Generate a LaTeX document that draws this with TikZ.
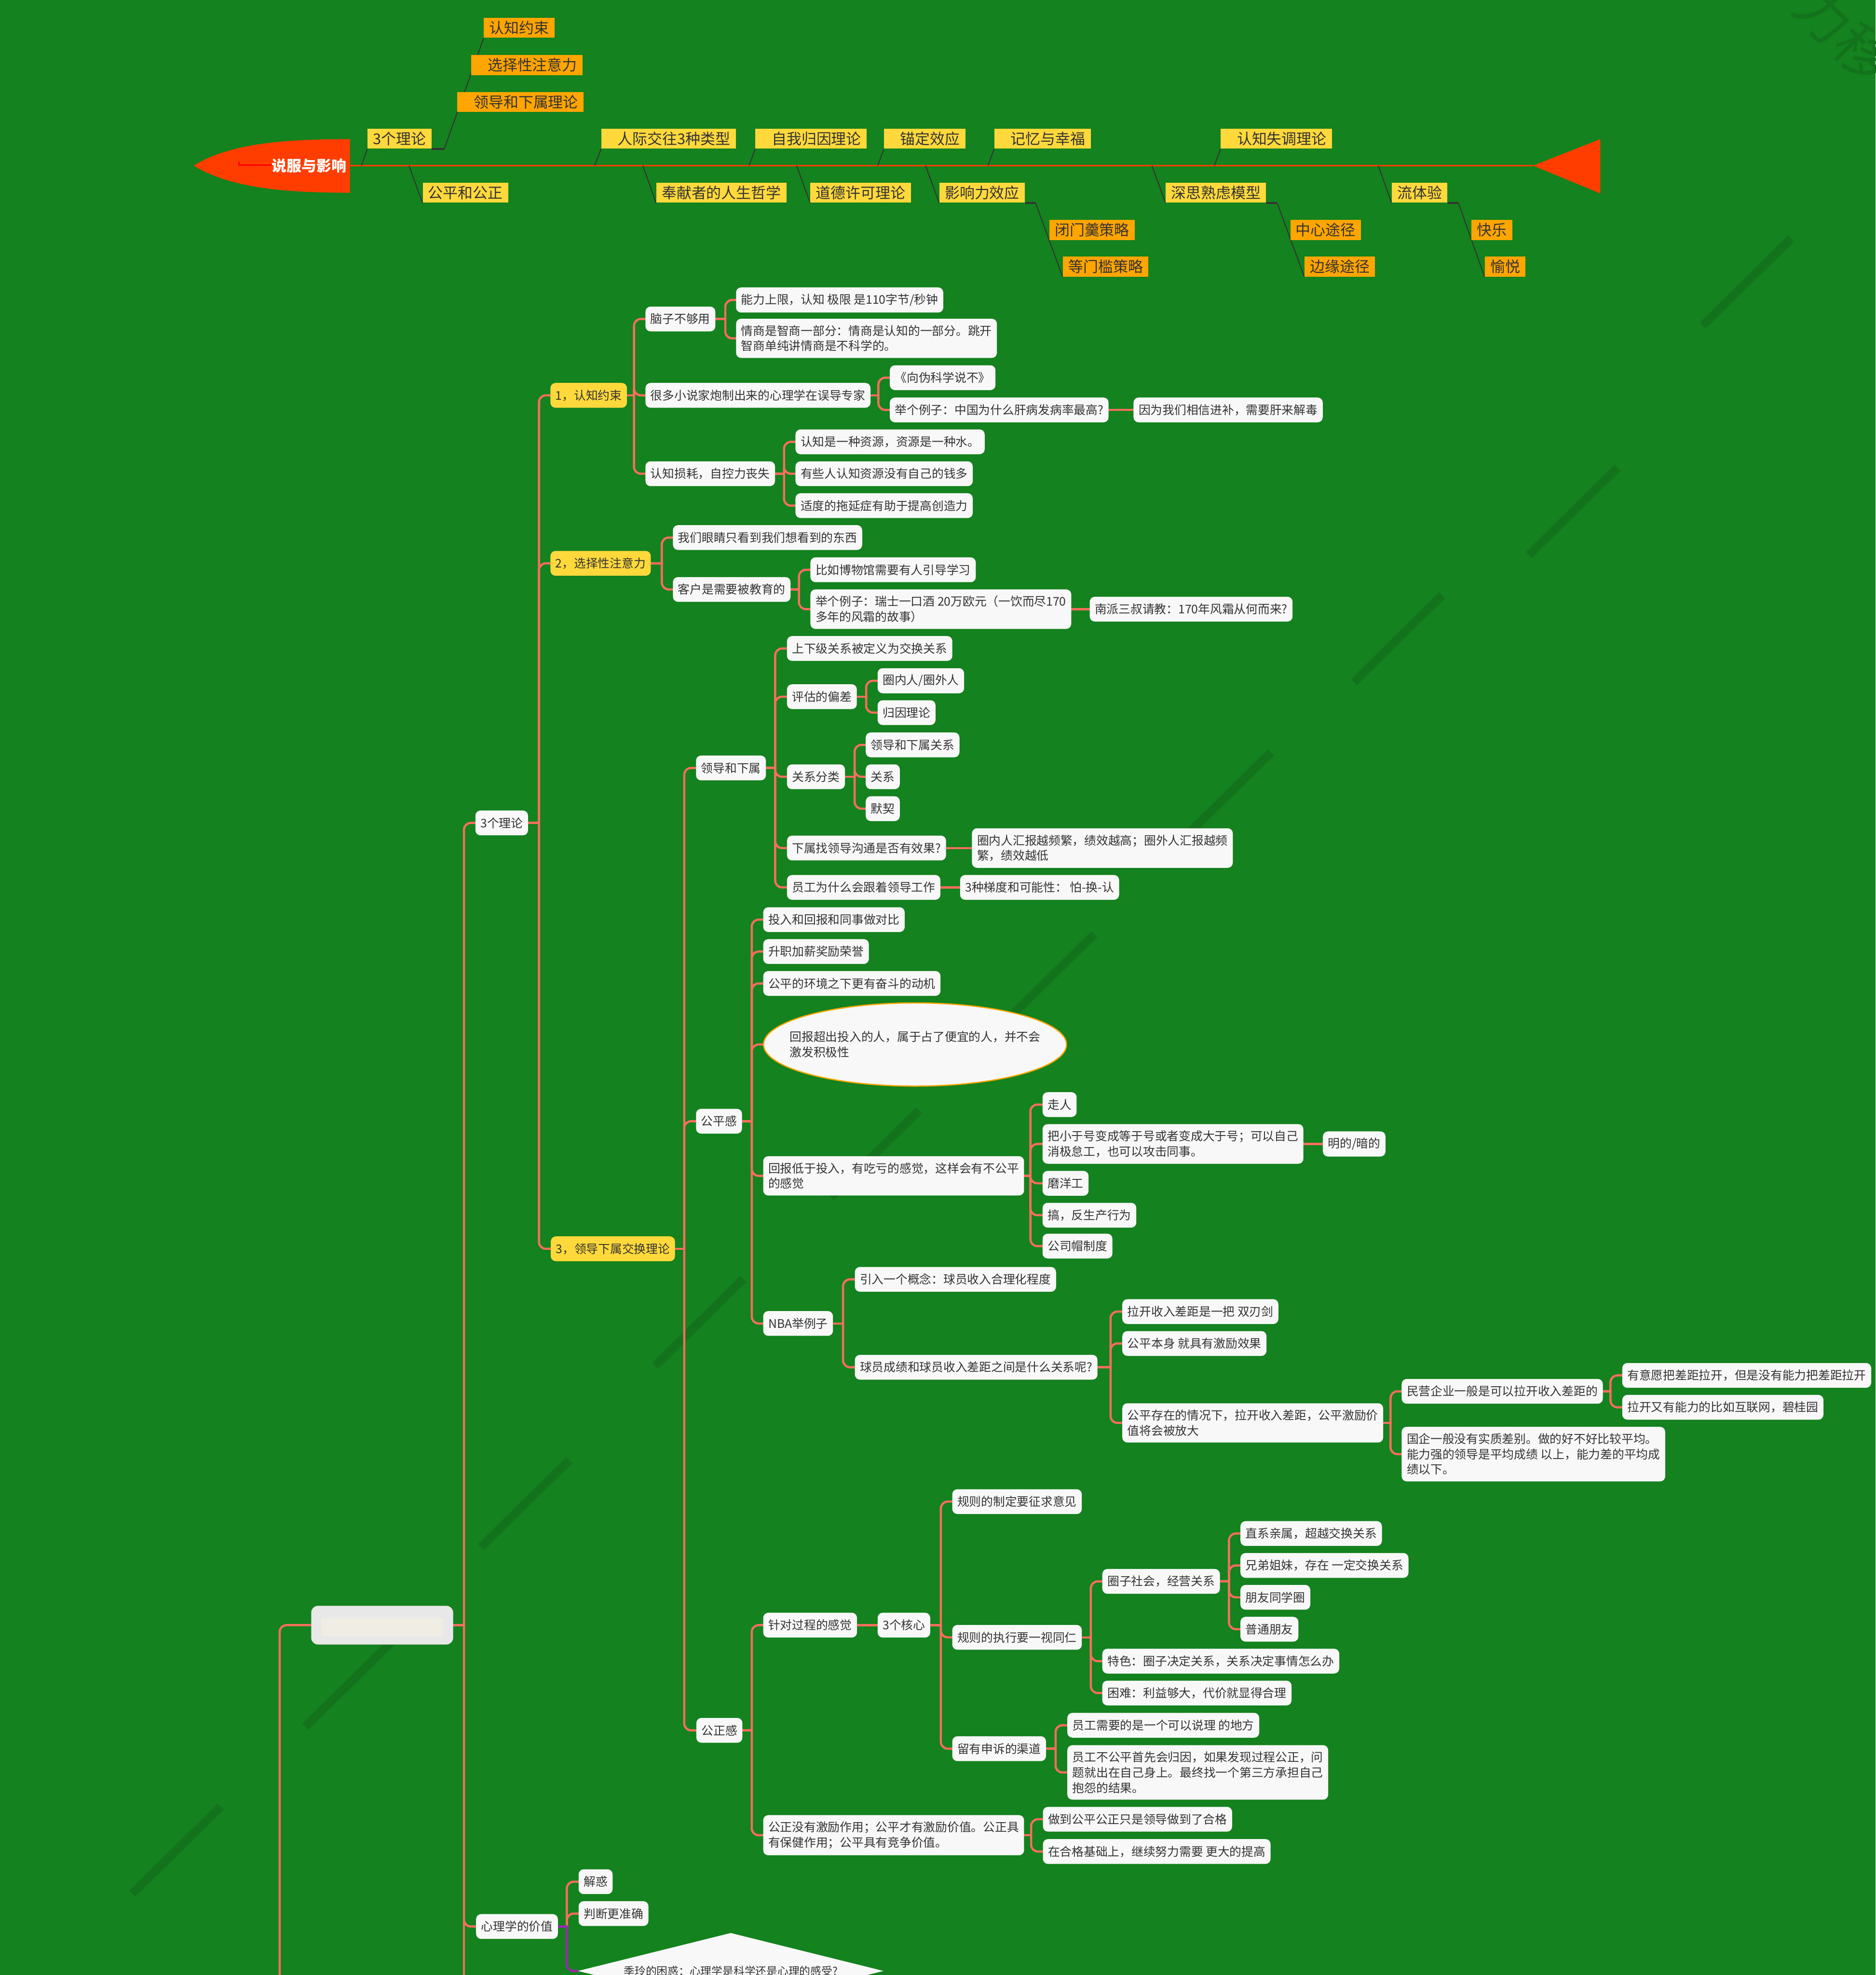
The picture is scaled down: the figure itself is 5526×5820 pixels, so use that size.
\documentclass[tikz,border=0pt]{standalone}
\usepackage{fontspec}
\setmainfont{Noto Sans CJK SC}
\usepackage{tikz}
\usetikzlibrary{positioning,shapes.geometric}
\definecolor{boardgreen}{RGB}{20,130,30}
\definecolor{markgreen}{RGB}{19,115,28}
\definecolor{linkred}{RGB}{250,110,92}
\definecolor{cardwhite}{RGB}{248,248,248}
\definecolor{inkgray}{RGB}{51,51,51}
\definecolor{tagyellow}{RGB}{255,217,59}
\definecolor{tagorange}{RGB}{255,165,0}
\definecolor{spinered}{RGB}{255,61,0}
\definecolor{valuepurple}{RGB}{156,39,176}
\definecolor{centergray}{RGB}{232,232,232}
\definecolor{centercream}{RGB}{240,237,228}
\pgfdeclarelayer{board}
\pgfdeclarelayer{links}
\pgfsetlayers{board,links,main}

\begin{document}
\begin{tikzpicture}[x=0.01cm,y=-0.01cm,
  card/.style={rectangle,rounded corners=0.15cm,fill=cardwhite,text=inkgray,font=\fontsize{10}{12.8}\selectfont,align=left,inner xsep=0.15cm,inner ysep=0.19cm,minimum height=0.73cm,anchor=west},
  tag/.style={card,fill=tagyellow},
  oval/.style={ellipse,draw=tagorange,line width=1pt,fill=cardwhite,text=inkgray,font=\fontsize{10}{12.8}\selectfont,align=left,minimum width=8.92cm,minimum height=2.45cm,inner xsep=-0.6cm,inner ysep=0pt},
  question/.style={diamond,aspect=4,fill=cardwhite,text=inkgray,font=\fontsize{9.2}{11}\selectfont,minimum width=9cm,minimum height=2.24cm,inner sep=0pt},
  centerbox/.style={rectangle,rounded corners=0.2cm,fill=centergray,minimum width=4.18cm,minimum height=1.14cm},
  fishtag/.style={rectangle,fill=tagyellow,text=inkgray,font=\fontsize{12.5}{14}\selectfont,inner xsep=0.16cm,inner ysep=0pt,minimum height=0.59cm,anchor=south west},
  fishsub/.style={fishtag,fill=tagorange},
  link/.style={draw=linkred,line width=1.8pt,rounded corners=0.2cm,line cap=round},
  purplelink/.style={link,draw=valuepurple},
  bone/.style={draw=inkgray,line width=0.8pt},
  bonestub/.style={draw=inkgray,line width=1.6pt},
  spine/.style={draw=spinered,line width=1.2pt},
  wmstroke/.style={draw=markgreen,line width=0.25cm}
]
\useasboundingbox (0,0) rectangle (5526,5820);
\begin{pgfonlayer}{board}
\fill[boardgreen] (0,0) rectangle (5526,5820);
\draw[wmstroke] (5017,959) -- (5277,703);
\draw[wmstroke] (4505,1635) -- (4765,1379);
\draw[wmstroke] (3989,2010) -- (4249,1754);
\draw[wmstroke] (3485,2473) -- (3745,2217);
\draw[wmstroke] (2964,3009) -- (3224,2753);
\draw[wmstroke] (2448,3528) -- (2708,3272);
\draw[wmstroke] (1930,4025) -- (2190,3769);
\draw[wmstroke] (1417,4559) -- (1677,4303);
\draw[wmstroke] (900,5088) -- (1160,4832);
\draw[wmstroke] (390,5580) -- (650,5324);
\node[text=markgreen,font=\fontsize{46}{46}\selectfont,rotate=-45] (stamp) at (5433,100) {力移};
\end{pgfonlayer}

% fishbone
\fill[spinered] (571,488) .. controls (680,420) and (850,410) .. (1031,410) -- (1031,568) .. controls (850,568) and (680,556) .. cycle;
\draw[red,line width=1.2pt] (704,476) -- (704,486) -- (800,486);
\node[text=white,font=\fontsize{12.5}{14}\selectfont\bfseries] (head) at (911,488) {说服与影响};
\fill[spinered] (4517,488) -- (4715,410) -- (4715,570) -- cycle;
\coordinate (neck) at (1031,488); \coordinate (tail) at (4517,488);
\coordinate (s1) at (1065,488); \coordinate (s2) at (1752,488); \coordinate (s3) at (2207,488);
\coordinate (s4) at (2586,488); \coordinate (s5) at (2911,488); \coordinate (s6) at (3578,488);
\coordinate (s7) at (1205,488); \coordinate (s8) at (1894,488); \coordinate (s9) at (2347,488);
\coordinate (s10) at (2727,488); \coordinate (s11) at (3394,488); \coordinate (s12) at (4061,488);
\coordinate (k1) at (1309,439); \coordinate (k2) at (3051,598); \coordinate (k3) at (3763,598); \coordinate (k4) at (4297,598);
\node[fishtag] (fish1) at (1082,439) {3个理论};
\node[fishtag] (fish2) at (1771,439) {\hspace{0.32cm}人际交往3种类型};
\node[fishtag] (fish3) at (2225,439) {\hspace{0.32cm}自我归因理论};
\node[fishtag] (fish4) at (2604,439) {\hspace{0.32cm}锚定效应};
\node[fishtag] (fish5) at (2929,439) {\hspace{0.32cm}记忆与幸福};
\node[fishtag] (fish6) at (3596,439) {\hspace{0.32cm}认知失调理论};
\node[fishtag] (fish7) at (1245,598) {公平和公正};
\node[fishtag] (fish8) at (1933,598) {奉献者的人生哲学};
\node[fishtag] (fish9) at (2387,598) {道德许可理论};
\node[fishtag] (fish10) at (2767,598) {影响力效应};
\node[fishtag] (fish11) at (3434,598) {深思熟虑模型};
\node[fishtag] (fish12) at (4100,598) {流体验};
\node[fishsub] (sub1) at (1347,331) {\hspace{0.32cm}领导和下属理论};
\node[fishsub] (sub2) at (1388,222) {\hspace{0.32cm}选择性注意力};
\node[fishsub] (sub3) at (1425,112) {认知约束};
\node[fishsub] (sub4) at (3091,708) {闭门羹策略};
\node[fishsub] (sub5) at (3131,816) {等门槛策略};
\node[fishsub] (sub6) at (3801,708) {中心途径};
\node[fishsub] (sub7) at (3843,816) {边缘途径};
\node[fishsub] (sub8) at (4335,708) {快乐};
\node[fishsub] (sub9) at (4374,816) {愉悦};

% mind map
\node[centerbox] (centre) at (1126,4789) {};
\node[fill=centercream,minimum width=3.59cm,minimum height=0.54cm,inner sep=0pt] (centrelabel) at (1126,4795) {};
\node[card] (theory) at (1400,2425) {3个理论};
\node[card] (value) at (1402,5677) {心理学的价值};
\node[tag] (cog) at (1621,1165) {1，认知约束};
\node[tag] (sel) at (1621,1660) {2，选择性注意力};
\node[tag] (lmx) at (1622,3680) {3，领导下属交换理论};
\node[card] (cog1) at (1901,940) {脑子不够用};
\node[card] (cog2) at (1901,1165) {很多小说家炮制出来的心理学在误导专家};
\node[card] (cog3) at (1901,1396) {认知损耗，自控力丧失};
\node[card] (cog11) at (2168,884) {能力上限，认知 极限 是110字节/秒钟};
\node[card] (cog12) at (2168,997) {情商是智商一部分：情商是认知的一部分。跳开\\智商单纯讲情商是不科学的。};
\node[card] (cog21) at (2621,1113) {《向伪科学说不》};
\node[card] (cog22) at (2621,1208) {举个例子：中国为什么肝病发病率最高?};
\node[card] (cog221) at (3339,1208) {因为我们相信进补，需要肝来解毒};
\node[card] (cog31) at (2343,1302) {认知是一种资源，资源是一种水。};
\node[card] (cog32) at (2343,1396) {有些人认知资源没有自己的钱多};
\node[card] (cog33) at (2343,1490) {适度的拖延症有助于提高创造力};
\node[card] (sel1) at (1982,1584) {我们眼睛只看到我们想看到的东西};
\node[card] (sel2) at (1982,1737) {客户是需要被教育的};
\node[card] (sel21) at (2387,1679) {比如博物馆需要有人引导学习};
\node[card] (sel22) at (2387,1795) {举个例子：瑞士一口酒 20万欧元（一饮而尽170\\多年的风霜的故事）};
\node[card] (sel221) at (3210,1795) {南派三叔请教：170年风霜从何而来?};
\node[card] (lead) at (2050,2263) {领导和下属};
\node[card] (fair) at (2050,3304) {公平感};
\node[card] (just) at (2051,5099) {公正感};
\node[card] (lead1) at (2318,1911) {上下级关系被定义为交换关系};
\node[card] (lead2) at (2318,2053) {评估的偏差};
\node[card] (lead3) at (2318,2289) {关系分类};
\node[card] (lead4) at (2318,2499) {下属找领导沟通是否有效果?};
\node[card] (lead5) at (2318,2615) {员工为什么会跟着领导工作};
\node[card] (lead21) at (2585,2006) {圈内人/圈外人};
\node[card] (lead22) at (2585,2100) {归因理论};
\node[card] (lead31) at (2550,2195) {领导和下属关系};
\node[card] (lead32) at (2550,2289) {关系};
\node[card] (lead33) at (2550,2383) {默契};
\node[card] (lead41) at (2863,2499) {圈内人汇报越频繁，绩效越高；圈外人汇报越频\\繁，绩效越低};
\node[card] (lead51) at (2828,2615) {3种梯度和可能性： 怕-换-认};
\node[card] (fair1) at (2248,2710) {投入和回报和同事做对比};
\node[card] (fair2) at (2248,2804) {升职加薪奖励荣誉};
\node[card] (fair3) at (2248,2898) {公平的环境之下更有奋斗的动机};
\node[oval] (fair4) at (2696,3078) {回报超出投入的人，属于占了便宜的人，并不会\\激发积极性};
\node[card] (fair5) at (2248,3465) {回报低于投入，有吃亏的感觉，这样会有不公平\\的感觉};
\node[card] (nba) at (2248,3900) {NBA举例子};
\node[card] (fair51) at (3071,3255) {走人};
\node[card] (fair52) at (3071,3371) {把小于号变成等于号或者变成大于号；可以自己\\消极怠工，也可以攻击同事。};
\node[card] (fair521) at (3897,3371) {明的/暗的};
\node[card] (fair53) at (3071,3487) {磨洋工};
\node[card] (fair54) at (3071,3581) {搞，反生产行为};
\node[card] (fair55) at (3071,3672) {公司帽制度};
\node[card] (nba1) at (2518,3770) {引入一个概念：球员收入合理化程度};
\node[card] (nba2) at (2518,4029) {球员成绩和球员收入差距之间是什么关系呢?};
\node[card] (gap1) at (3306,3865) {拉开收入差距是一把 双刃剑};
\node[card] (gap2) at (3306,3959) {公平本身 就具有激励效果};
\node[card] (gap3) at (3306,4193) {公平存在的情况下，拉开收入差距，公平激励价\\值将会被放大};
\node[card] (priv) at (4129,4100) {民营企业一般是可以拉开收入差距的};
\node[card] (soe) at (4129,4285) {国企一般没有实质差别。做的好不好比较平均。\\能力强的领导是平均成绩 以上，能力差的平均成\\绩以下。};
\node[card] (priv1) at (4779,4053) {有意愿把差距拉开，但是没有能力把差距拉开};
\node[card] (priv2) at (4779,4147) {拉开又有能力的比如互联网，碧桂园};
\node[card] (just1) at (2248,4789) {针对过程的感觉};
\node[card] (just2) at (2248,5408) {公正没有激励作用；公平才有激励价值。公正具\\有保健作用；公平具有竞争价值。};
\node[card] (core) at (2585,4789) {3个核心};
\node[card] (core1) at (2805,4425) {规则的制定要征求意见};
\node[card] (core2) at (2805,4825) {规则的执行要一视同仁};
\node[card] (core3) at (2805,5153) {留有申诉的渠道};
\node[card] (ring) at (3247,4660) {圈子社会，经营关系};
\node[card] (core22) at (3247,4895) {特色：圈子决定关系，关系决定事情怎么办};
\node[card] (core23) at (3247,4989) {困难：利益够大，代价就显得合理};
\node[card] (ring1) at (3654,4519) {直系亲属，超越交换关系};
\node[card] (ring2) at (3654,4613) {兄弟姐妹，存在 一定交换关系};
\node[card] (ring3) at (3654,4707) {朋友同学圈};
\node[card] (ring4) at (3654,4801) {普通朋友};
\node[card] (core31) at (3144,5084) {员工需要的是一个可以说理 的地方};
\node[card] (core32) at (3144,5223) {员工不公平首先会归因，如果发现过程公正，问\\题就出在自己身上。最终找一个第三方承担自己\\抱怨的结果。};
\node[card] (just21) at (3072,5361) {做到公平公正只是领导做到了合格};
\node[card] (just22) at (3072,5456) {在合格基础上，继续努力需要 更大的提高};
\node[card] (value1) at (1704,5545) {解惑};
\node[card] (value2) at (1704,5639) {判断更准确};
\node[question] (puzzle) at (2153,5808) {季玲的困惑：心理学是科学还是心理的感受?};

\begin{pgfonlayer}{links}
\draw[spine] (neck) -- (tail);
\draw[bone] (s1) -- (fish1.south west); \draw[bone] (s2) -- (fish2.south west); \draw[bone] (s3) -- (fish3.south west);
\draw[bone] (s4) -- (fish4.south west); \draw[bone] (s5) -- (fish5.south west); \draw[bone] (s6) -- (fish6.south west);
\draw[bone] (s7) -- (fish7.south west); \draw[bone] (s8) -- (fish8.south west); \draw[bone] (s9) -- (fish9.south west);
\draw[bone] (s10) -- (fish10.south west); \draw[bone] (s11) -- (fish11.south west); \draw[bone] (s12) -- (fish12.south west);
\draw[bonestub] (fish1.south east) -- (k1); \draw[bone] (k1) -- (sub3.south west);
\draw[bonestub] (fish10.south east) -- (k2); \draw[bone] (k2) -- (sub5.south west);
\draw[bonestub] (fish11.south east) -- (k3); \draw[bone] (k3) -- (sub7.south west);
\draw[bonestub] (fish12.south east) -- (k4); \draw[bone] (k4) -- (sub9.south west);

\coordinate (jcentre) at (1367,4789); \coordinate (rcut) at (1367,5830); \coordinate (lcut) at (824,5830);
\draw[link] (centre.east) -- (jcentre); \draw[link] (jcentre) -- (rcut); \draw[link] (jcentre) |- (theory.west); \draw[link] (jcentre) |- (value.west);
\draw[link] (centre.west) -| (lcut);
\coordinate (jtheory) at (1588,2425);
\draw[link] (theory.east) -- (jtheory); \draw[link] (jtheory) |- (cog.west); \draw[link] (jtheory) |- (sel.west); \draw[link] (jtheory) |- (lmx.west);
\coordinate (jcog) at (1868,1165);
\draw[link] (cog.east) -- (jcog); \draw[link] (jcog) |- (cog1.west); \draw[link] (jcog) |- (cog2.west); \draw[link] (jcog) |- (cog3.west);
\coordinate (jcog1) at (2137,940);
\draw[link] (cog1.east) -- (jcog1); \draw[link] (jcog1) |- (cog11.west); \draw[link] (jcog1) |- (cog12.west);
\coordinate (jcog2) at (2588,1165);
\draw[link] (cog2.east) -- (jcog2); \draw[link] (jcog2) |- (cog21.west); \draw[link] (jcog2) |- (cog22.west);
\draw[link] (cog22.east) -- (cog221.west);
\coordinate (jcog3) at (2310,1396);
\draw[link] (cog3.east) -- (jcog3); \draw[link] (jcog3) |- (cog31.west); \draw[link] (jcog3) |- (cog32.west); \draw[link] (jcog3) |- (cog33.west);
\coordinate (jsel) at (1950,1660);
\draw[link] (sel.east) -- (jsel); \draw[link] (jsel) |- (sel1.west); \draw[link] (jsel) |- (sel2.west);
\coordinate (jsel2) at (2354,1737);
\draw[link] (sel2.east) -- (jsel2); \draw[link] (jsel2) |- (sel21.west); \draw[link] (jsel2) |- (sel22.west);
\draw[link] (sel22.east) -- (sel221.west);
\coordinate (jlmx) at (2016,3680);
\draw[link] (lmx.east) -- (jlmx); \draw[link] (jlmx) |- (lead.west); \draw[link] (jlmx) |- (fair.west); \draw[link] (jlmx) |- (just.west);
\coordinate (jlead) at (2284,2263);
\draw[link] (lead.east) -- (jlead); \draw[link] (jlead) |- (lead1.west); \draw[link] (jlead) |- (lead2.west); \draw[link] (jlead) |- (lead3.west); \draw[link] (jlead) |- (lead4.west); \draw[link] (jlead) |- (lead5.west);
\coordinate (jlead2) at (2552,2053);
\draw[link] (lead2.east) -- (jlead2); \draw[link] (jlead2) |- (lead21.west); \draw[link] (jlead2) |- (lead22.west);
\coordinate (jlead3) at (2518,2289);
\draw[link] (lead3.east) -- (jlead3); \draw[link] (jlead3) |- (lead31.west); \draw[link] (jlead3) |- (lead32.west); \draw[link] (jlead3) |- (lead33.west);
\draw[link] (lead4.east) -- (lead41.west); \draw[link] (lead5.east) -- (lead51.west);
\coordinate (jfair) at (2215,3304);
\draw[link] (fair.east) -- (jfair); \draw[link] (jfair) |- (fair1.west); \draw[link] (jfair) |- (fair2.west); \draw[link] (jfair) |- (fair3.west); \draw[link] (jfair) |- (fair4.west); \draw[link] (jfair) |- (fair5.west); \draw[link] (jfair) |- (nba.west);
\coordinate (jfair5) at (3036,3465);
\draw[link] (fair5.east) -- (jfair5); \draw[link] (jfair5) |- (fair51.west); \draw[link] (jfair5) |- (fair52.west); \draw[link] (jfair5) |- (fair53.west); \draw[link] (jfair5) |- (fair54.west); \draw[link] (jfair5) |- (fair55.west);
\draw[link] (fair52.east) -- (fair521.west);
\coordinate (jnba) at (2484,3900);
\draw[link] (nba.east) -- (jnba); \draw[link] (jnba) |- (nba1.west); \draw[link] (jnba) |- (nba2.west);
\coordinate (jnba2) at (3272,4029);
\draw[link] (nba2.east) -- (jnba2); \draw[link] (jnba2) |- (gap1.west); \draw[link] (jnba2) |- (gap2.west); \draw[link] (jnba2) |- (gap3.west);
\coordinate (jgap3) at (4097,4193);
\draw[link] (gap3.east) -- (jgap3); \draw[link] (jgap3) |- (priv.west); \draw[link] (jgap3) |- (soe.west);
\coordinate (jpriv) at (4745,4100);
\draw[link] (priv.east) -- (jpriv); \draw[link] (jpriv) |- (priv1.west); \draw[link] (jpriv) |- (priv2.west);
\coordinate (jjust) at (2215,5099);
\draw[link] (just.east) -- (jjust); \draw[link] (jjust) |- (just1.west); \draw[link] (jjust) |- (just2.west);
\draw[link] (just1.east) -- (core.west);
\coordinate (jcore) at (2772,4789);
\draw[link] (core.east) -- (jcore); \draw[link] (jcore) |- (core1.west); \draw[link] (jcore) |- (core2.west); \draw[link] (jcore) |- (core3.west);
\coordinate (jcore2) at (3214,4825);
\draw[link] (core2.east) -- (jcore2); \draw[link] (jcore2) |- (ring.west); \draw[link] (jcore2) |- (core22.west); \draw[link] (jcore2) |- (core23.west);
\coordinate (jring) at (3621,4660);
\draw[link] (ring.east) -- (jring); \draw[link] (jring) |- (ring1.west); \draw[link] (jring) |- (ring2.west); \draw[link] (jring) |- (ring3.west); \draw[link] (jring) |- (ring4.west);
\coordinate (jcore3) at (3110,5153);
\draw[link] (core3.east) -- (jcore3); \draw[link] (jcore3) |- (core31.west); \draw[link] (jcore3) |- (core32.west);
\coordinate (jjust2) at (3038,5408);
\draw[link] (just2.east) -- (jjust2); \draw[link] (jjust2) |- (just21.west); \draw[link] (jjust2) |- (just22.west);
\coordinate (jvalue) at (1670,5677);
\draw[link] (jvalue) |- (value1.west); \draw[link] (jvalue) |- (value2.west);
\draw[purplelink] (value.east) -- (jvalue); \draw[purplelink] (jvalue) |- (puzzle.west);
\end{pgfonlayer}
\end{tikzpicture}
\end{document}
